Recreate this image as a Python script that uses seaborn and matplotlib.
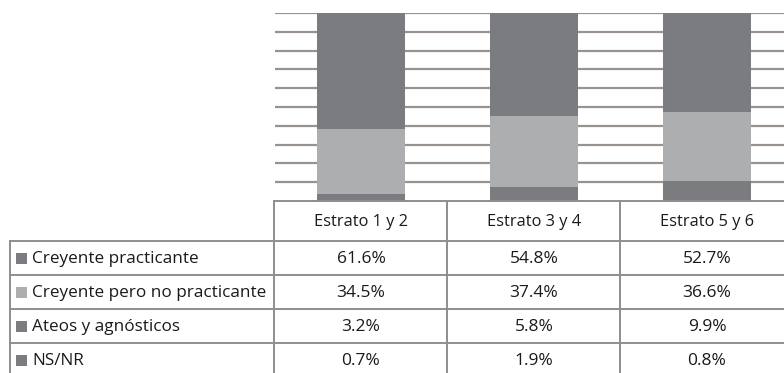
import numpy as np
import pandas as pd
import seaborn as sns
import matplotlib.pyplot as plt
from matplotlib.patches import Rectangle

# Data
estratos = ['Estrato 1 y 2', 'Estrato 3 y 4', 'Estrato 5 y 6']
categorias = ['Creyente practicante', 'Creyente pero no practicante',
              'Ateos y agnósticos', 'NS/NR']
practicante = [61.6, 54.8, 52.7]
no_practicante = [34.5, 37.4, 36.6]
ateos = [3.2, 5.8, 9.9]
nsnr = [0.7, 1.9, 0.8]

dark = '#7b7c80'
light = '#adaeb0'
colores = [dark, light, dark, dark]
grid_col = '#9a928f'
line_col = '#8e8e8e'

sns.set_style('white')
plt.rcParams['font.family'] = ['Open Sans', 'DejaVu Sans']

W, H = 784, 373
fig = plt.figure(figsize=(W / 100, H / 100), dpi=100)

# bar axes, placed in pixels (extends past the right edge like the original)
x0, x1 = 274.5, 793.5
y_top, y_bot = 13, 201
ax = fig.add_axes([x0 / W, 1 - y_bot / H, (x1 - x0) / W, (y_bot - y_top) / H])

series = [practicante, no_practicante, ateos, nsnr]
df = pd.DataFrame({'estrato': estratos})
# stack from bottom: NS/NR, Ateos, no practicante, practicante
# drawn as overlapping cumulative bars, tallest first
cum = np.zeros(3)
stack = []
for vals, col in zip(series[::-1], colores[::-1]):
    cum = cum + np.array(vals)
    stack.append((cum.copy(), col))
for tot, col in stack[::-1]:
    df['v'] = tot
    sns.barplot(data=df, x='estrato', y='v', color=col, width=0.51,
                saturation=1, ax=ax, zorder=3, linewidth=0, edgecolor=col)

ax.set_xlim(-0.5, 2.5)
ax.set_ylim(0, 100)
for yv in range(10, 101, 10):
    ax.axhline(yv, color=grid_col, lw=1.6, zorder=1)
ax.set_xticks([])
ax.set_yticks([])
ax.set_xlabel('')
ax.set_ylabel('')
for s in ax.spines.values():
    s.set_visible(False)

# data table drawn in pixel coordinates
tx = fig.add_axes([0, 0, 1, 1])
tx.set_xlim(0, W)
tx.set_ylim(H, 0)
tx.axis('off')

col_edges = [274.5, 447.5, 620.5, 793.5]
row_edges = [201, 241, 275, 309, 343, 377]
lab_left = 10
lw = 1.4

# header row (only over data columns)
tx.plot([col_edges[0], col_edges[-1]], [row_edges[0]] * 2, color=line_col, lw=lw)
for r in row_edges[1:]:
    tx.plot([lab_left, col_edges[-1]], [r, r], color=line_col, lw=lw)
for c in col_edges:
    tx.plot([c, c], [row_edges[0], row_edges[-1]], color=line_col, lw=lw)
tx.plot([lab_left, lab_left], [row_edges[1], row_edges[-1]], color=line_col, lw=lw)

txt_col = '#1a1a1a'
for j, est in enumerate(estratos):
    cx = (col_edges[j] + col_edges[j + 1]) / 2
    tx.text(cx, (row_edges[0] + row_edges[1]) / 2 + 1, est, ha='center',
            va='center', fontsize=11.8, color=txt_col)

for i, (cat, vals, col) in enumerate(zip(categorias, series, colores)):
    cy = (row_edges[i + 1] + row_edges[i + 2]) / 2
    tx.add_patch(Rectangle((16, cy - 5.5), 11, 11, color=col, lw=0))
    tx.text(32, cy + 1, cat, ha='left', va='center', fontsize=12.3, color=txt_col)
    for j, v in enumerate(vals):
        cx = (col_edges[j] + col_edges[j + 1]) / 2
        tx.text(cx, cy + 1, f'{v:.1f}%', ha='center', va='center',
                fontsize=12.5, color=txt_col)

fig.savefig('out.png', dpi=100)
